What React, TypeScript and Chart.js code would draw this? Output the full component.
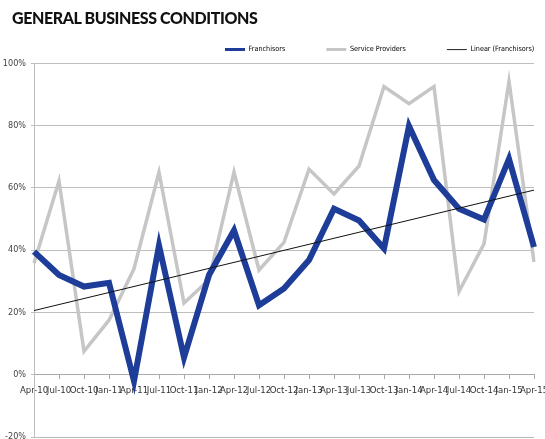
import React, { useEffect, useRef } from "react";
import { Chart, registerables } from "chart.js";

Chart.register(...registerables);

const categories = ["Apr-10","Jul-10","Oct-10","Jan-11","Apr-11","Jul-11","Oct-11","Jan-12","Apr-12","Jul-12","Oct-12","Jan-13","Apr-13","Jul-13","Oct-13","Jan-14","Apr-14","Jul-14","Oct-14","Jan-15","Apr-15"];
const franchisors = [39.5, 32, 28.3, 29.5, -2, 41.5, 5.5, 32, 46.3, 22.3, 27.7, 36.8, 53.3, 49.5, 40.5, 79.8, 62.5, 53.3, 49.8, 69.3, 41];
const serviceProviders = [35.8, 62.2, 7.5, 17.5, 34, 65, 23, 30.5, 65, 33.6, 42.5, 66, 58, 67, 92.5, 87, 92.5, 26.7, 42, 94.2, 36.2];
const yTicks = [-20, 0, 20, 40, 60, 80, 100];

function linearTrend(values: number[]): number[] {
  const n = values.length;
  const mx = (n - 1) / 2;
  const my = values.reduce((a, b) => a + b, 0) / n;
  let sxy = 0, sxx = 0;
  values.forEach((v, i) => { sxy += (i - mx) * (v - my); sxx += (i - mx) * (i - mx); });
  const slope = sxy / sxx;
  return values.map((_, i) => my + slope * (i - mx));
}

const BLUE = "#1d3d98";
const GREY = "#c6c6c6";
const FONT = "'DejaVu Sans Condensed', 'Liberation Sans Narrow', sans-serif";
const LEGEND_PAD = 41;

const legendShift = {
  id: "legendShift",
  afterLayout(chart: any) {
    const l = chart.legend;
    if (!l) return;
    l.left = 225 - LEGEND_PAD;
    l.right = 700;
  },
};

export default function App() {
  const ref = useRef<HTMLCanvasElement | null>(null);
  useEffect(() => {
    document.body.style.margin = "0";
    if (!ref.current) return;
    const trend = linearTrend(franchisors);
    const chart = new Chart(ref.current, {
      type: "line",
      data: {
        labels: categories,
        datasets: [
          { label: "Franchisors", data: franchisors, borderColor: BLUE, borderWidth: 6, pointRadius: 0, order: 1, tension: 0 },
          { label: "Service Providers", data: serviceProviders, borderColor: GREY, borderWidth: 3.5, pointRadius: 0, order: 2, tension: 0 },
          { label: "Linear (Franchisors)", data: trend, borderColor: "#111", borderWidth: 1, pointRadius: 0, order: 0, tension: 0 },
        ],
      },
      plugins: [legendShift],
      options: {
        animation: false,
        responsive: false,
        layout: { padding: { top: 5, bottom: 2, left: 0, right: 11 } },
        plugins: {
          tooltip: { enabled: false },
          title: { display: false },
          legend: {
            display: true,
            position: "top",
            align: "start",
            labels: {
              usePointStyle: true,
              pointStyleWidth: 20,
              padding: LEGEND_PAD,
              color: "#333",
              font: { family: FONT, size: 7.2 },
              generateLabels: () => [
                { text: "Franchisors", strokeStyle: BLUE, fillStyle: BLUE, lineWidth: 3, pointStyle: "line", datasetIndex: 0, hidden: false },
                { text: "Service Providers", strokeStyle: GREY, fillStyle: GREY, lineWidth: 3, pointStyle: "line", datasetIndex: 1, hidden: false },
                { text: "Linear (Franchisors)", strokeStyle: "#222", fillStyle: "#222", lineWidth: 1, pointStyle: "line", datasetIndex: 2, hidden: false },
              ] as any,
            },
          },
        },
        scales: {
          x: {
            type: "category",
            position: { y: 0 } as any,
            offset: false,
            afterFit: (s: any) => { s.paddingLeft = 0; s.paddingRight = 0; },
            grid: { drawOnChartArea: false, drawTicks: true, tickLength: 4, color: "#aaa" },
            border: { color: "#aaa" },
            ticks: { autoSkip: false, maxRotation: 0, minRotation: 0, padding: 6, color: "#333", font: { family: FONT, size: 9.5 } },
          },
          y: {
            min: -20,
            max: 100,
            afterFit: (s: any) => { s.width = 34; s.paddingBottom = 0; },
            afterBuildTicks: (s: any) => { s.ticks = yTicks.map((v) => ({ value: v })); },
            grid: { color: "#bdbdbd", lineWidth: 1, tickLength: 3 },
            border: { color: "#bdbdbd" },
            ticks: { color: "#444", padding: 5, font: { family: FONT, size: 9 }, callback: (v: any) => `${v}%` },
          },
        },
      },
    });
    return () => chart.destroy();
  }, []);
  return (
    <div style={{ position: "relative", width: 545, height: 439 }}>
      <div style={{ position: "absolute", left: 12, top: 8, fontFamily: "Lato, sans-serif", fontWeight: 900, fontSize: 16, letterSpacing: -0.4, color: "#111" }}>
        GENERAL BUSINESS CONDITIONS
      </div>
      <canvas ref={ref} width={545} height={439} style={{ display: "block" }} />
    </div>
  );
}
